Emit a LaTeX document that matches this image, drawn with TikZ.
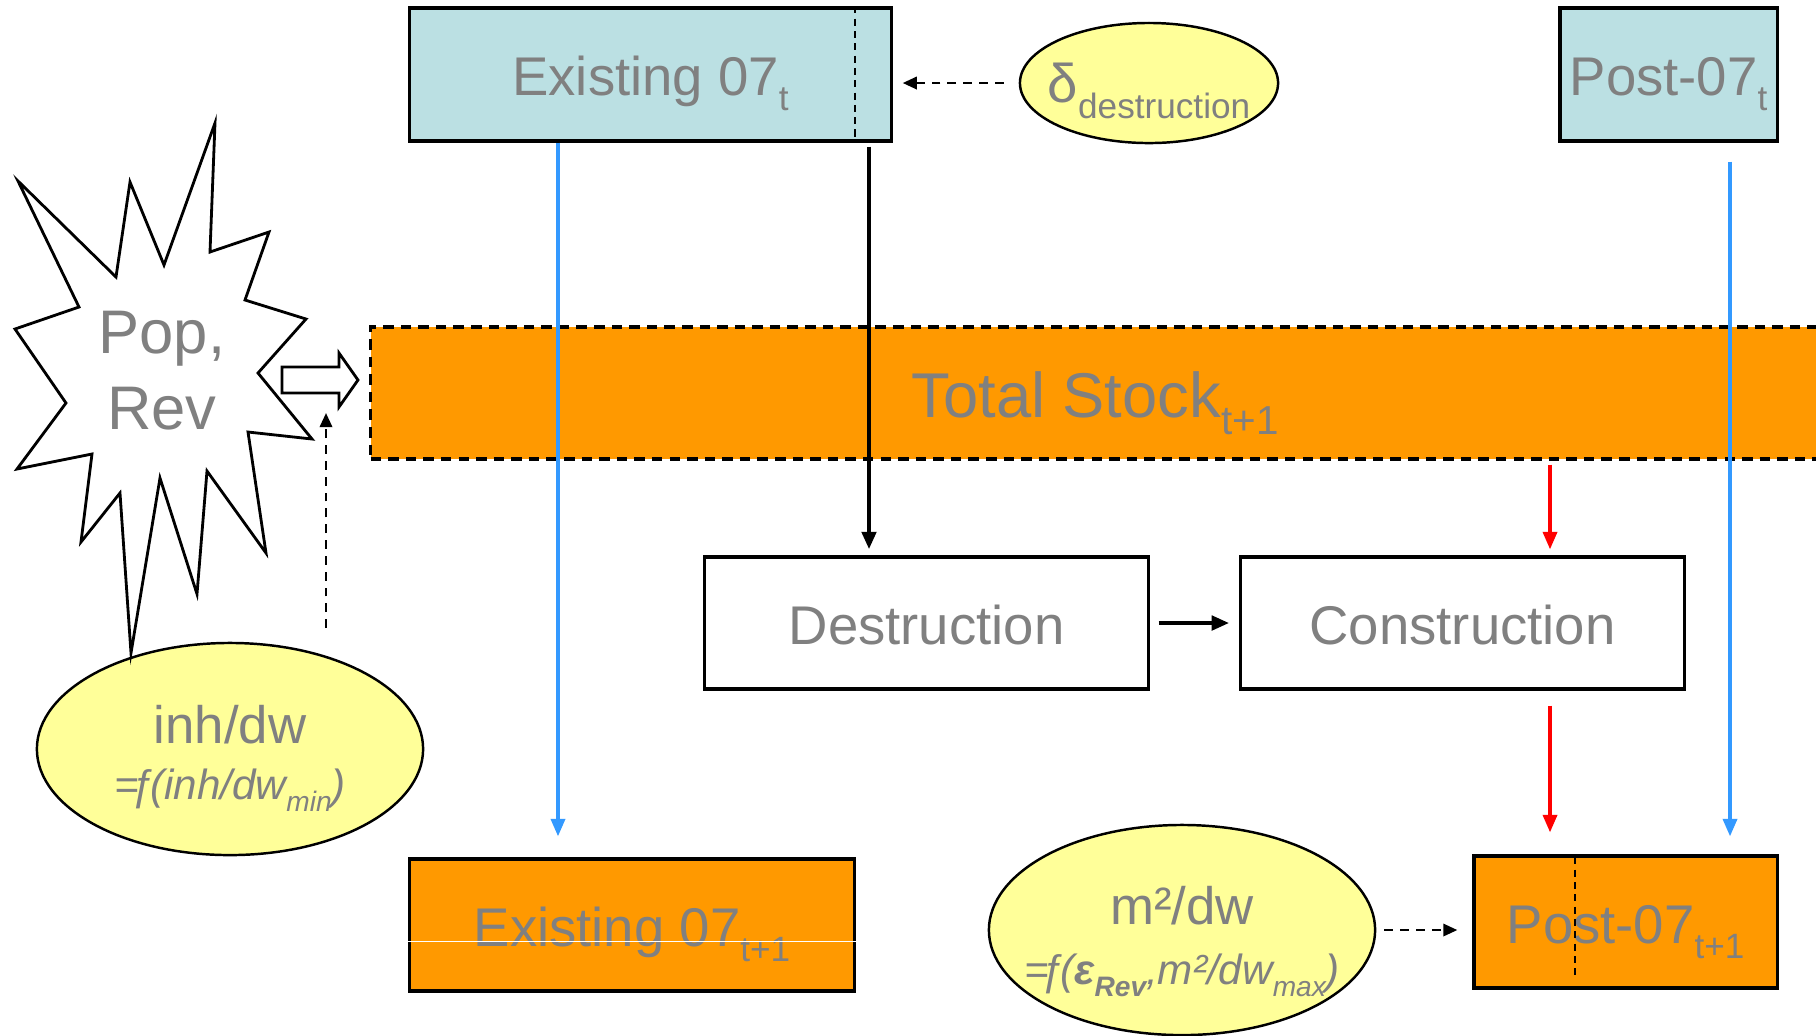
\documentclass[tikz,border=0pt]{standalone}
\usepackage{fontspec}
\setmainfont{Liberation Sans}
\usetikzlibrary{arrows.meta, shapes.geometric}

\definecolor{boxteal}{HTML}{BBE0E3}
\definecolor{stockorange}{HTML}{FF9900}
\definecolor{paleyellow}{HTML}{FFFF99}
\definecolor{labelgray}{HTML}{808080}
\definecolor{flowblue}{HTML}{3399FF}
\definecolor{flowred}{HTML}{FF0000}

\newcommand{\idx}[2][10]{\raisebox{-0.28em}[0pt][0pt]{\fontsize{#1}{#1}\selectfont #2}}

\begin{document}
\begin{tikzpicture}[x=0.01cm, y=-0.01cm,
    every node/.style={text=labelgray},
    block/.style={draw, line width=0.9pt, inner sep=0pt, text height=12pt, text depth=0pt,
      font=\fontsize{15.5}{18}\selectfont},
    oldstock/.style={block, fill=boxteal},
    newstock/.style={block, fill=stockorange},
    process/.style={block, fill=white},
    param/.style={ellipse, draw, line width=0.7pt, fill=paleyellow, inner sep=0pt},
    flow/.style={-{Triangle[length=5pt,width=4pt]}, line width=1pt},
    hint/.style={-{Triangle[length=4pt,width=3.5pt]}, line width=0.7pt, dash pattern=on 2.5pt off 2pt}]
  \useasboundingbox (0,0) rectangle (1816,1035);
  \clip (0,0) rectangle (1816,1035);

  % stocks and processes
  \node (stock) [newstock, dash pattern=on 3pt off 2pt, minimum width=14.48cm, minimum height=1.32cm,
    font=\fontsize{18}{21}\selectfont, text height=13.7pt] at (1095,393) {Total Stock\idx[11.5]{t+1}};
  \node (ex0) [oldstock, minimum width=4.81cm, minimum height=1.33cm] at (650.5,74.5) {Existing 07\idx{t}};
  \node (post0) [oldstock, minimum width=2.17cm, minimum height=1.33cm] at (1668.5,74.5) {Post-07\idx{t}};
  \node (destr) [process, minimum width=4.43cm, minimum height=1.32cm] at (926.5,623) {Destruction};
  \node (constr) [process, minimum width=4.43cm, minimum height=1.32cm] at (1462.5,623) {Construction};
  \node (ex1) [newstock, minimum width=4.44cm, minimum height=1.32cm] at (632,925) {Existing 07\idx{t+1}};
  \node (post1) [newstock, minimum width=3.03cm, minimum height=1.32cm] at (1625.5,922) {Post-07\idx{t+1}};

  % parameters
  \node (delta) [param, minimum width=2.58cm, minimum height=1.2cm] at (1149,83) {};
  \node (deltatxt) [font=\fontsize{15.5}{18}\selectfont, inner sep=0pt, text height=11.3pt, text depth=0pt]
    at (delta) {δ\idx{destruction}};
  \node (inh) [param, minimum width=3.86cm, minimum height=2.12cm] at (230,749) {};
  \node (inhtxt) [align=center, font=\fontsize{15}{18}\selectfont] at ([yshift=-0.08cm]inh)
    {inh/dw\\[-2pt]{\fontsize{12}{14}\selectfont\itshape =\kern-0.2emƒ\kern-0.08em(inh/dw\idx[8]{min})}};
  \node (msq) [param, minimum width=3.86cm, minimum height=2.1cm] at (1182,930) {};
  \node (msqtxt) [align=center, font=\fontsize{15}{18}\selectfont] at ([yshift=-0.1cm]msq)
    {m²/dw\\[-1pt]{\fontsize{12}{14}\selectfont\itshape =\kern-0.2emƒ\kern-0.08em(\textbf{ε}\idx[8]{\textbf{Rev}},m²/dw\idx[8]{max})}};

  % drivers
  \draw [line width=0.8pt, fill=white] (215,123) -- (210,252) -- (269,232) -- (245,300) -- (306,319)
    -- (258,373) -- (312,439) -- (248,432) -- (266,553) -- (207,471) -- (197,594) -- (160,478)
    -- (131,653) -- (120,493) -- (81,542) -- (92,454) -- (17,469) -- (66,403) -- (15,329)
    -- (79,307) -- (18,181) -- (116,277) -- (130,182) -- (164,265) -- cycle;
  \node (pop) [align=center, font=\fontsize{17.5}{21.6}\selectfont] at (162,371) {Pop,\\Rev};
  \draw [line width=0.8pt, fill=white] (282,367) -- (339,367) -- (339,353) -- (358,380)
    -- (339,407) -- (339,393) -- (282,393) -- cycle;

  \coordinate (blx) at (558,0);
  \coordinate (brx) at (1730,0);
  \coordinate (bkx) at (869,0);
  \coordinate (rdx) at (1550,0);
  \coordinate (cutx) at (855,0);
  \coordinate (cut1x) at (1575,0);
  \coordinate (up0) at (326,628);
  \coordinate (up1) at (326,413);

  % split lines
  \draw [line width=0.6pt, dash pattern=on 2pt off 1.5pt] (ex0.north -| cutx) -- (ex0.south -| cutx);
  \draw [line width=0.6pt, dash pattern=on 2pt off 1.5pt] ([yshift=-0.03cm]post1.north -| cut1x) -- ([yshift=0.12cm]post1.south -| cut1x);
  \draw [white, line width=0.3pt] (ex1.west |- 0,941) -- (ex1.east |- 0,941);

  % flows
  \draw [flow, flowblue, shorten >=0.21cm] (ex0.south -| blx) -- (ex1.north -| blx);
  \draw [flow, flowblue, shorten <=0.19cm, shorten >=0.18cm] (post0.south -| brx) -- (post1.north -| brx);
  \draw [flow, line width=1.4pt, shorten <=0.04cm, shorten >=0.06cm] (ex0.south -| bkx) -- (destr.north -| bkx);
  \draw [flow, flowred, shorten <=0.04cm, shorten >=0.06cm] (stock.south -| rdx) -- (constr.north -| rdx);
  \draw [flow, flowred, shorten <=0.15cm, shorten >=0.22cm] (constr.south -| rdx) -- (post1.north -| rdx);
  \draw [flow, line width=1.4pt, shorten <=0.09cm, shorten >=0.1cm] (destr) -- (constr);
  \draw [hint, shorten <=0.15cm, shorten >=0.1cm] (delta.west) -- (ex0.east |- delta.west);
  \draw [hint] (up0) -- (up1);
  \draw [hint, shorten <=0.08cm, shorten >=0.15cm] (msq.east) -- (msq.east -| post1.west);
\end{tikzpicture}
\end{document}
